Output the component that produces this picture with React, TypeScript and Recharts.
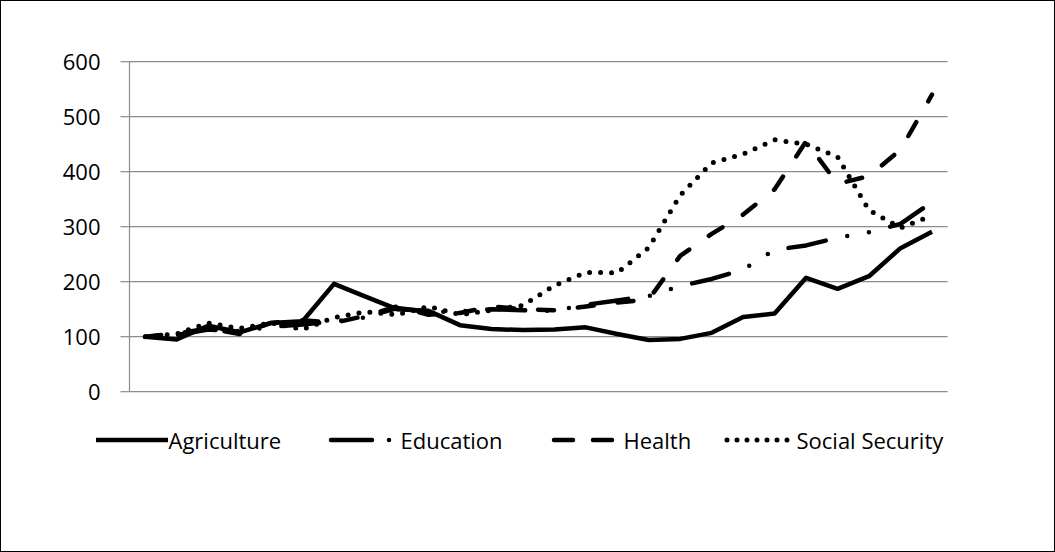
import React from 'react';
import { LineChart, Line, XAxis, YAxis, CartesianGrid, Legend } from 'recharts';

const categories = ['1', '2', '3', '4', '5', '6', '7', '8', '9', '10', '11', '12', '13', '14', '15', '16', '17', '18', '19', '20', '21', '22', '23', '24', '25', '26'];
const agriculture = [100, 95, 120, 108, 125, 128, 196, 173, 150, 147, 121, 114, 112, 113, 117, 105, 94, 96, 107, 136, 142, 207, 187, 210, 261, 291];
const education = [100, 103, 113, 110, 118, 122, 128, 135, 152, 145, 146, 150, 148, 147, 158, 166, 174, 192, 205, 222, 258, 266, 280, 290, 305, 345];
const health = [100, 106, 115, 105, 125, 130, 125, 138, 155, 140, 143, 155, 150, 148, 155, 162, 168, 247, 287, 322, 368, 455, 378, 392, 440, 540];
const socialSecurity = [100, 105, 125, 115, 125, 113, 135, 145, 140, 155, 140, 148, 157, 193, 217, 216, 262, 357, 416, 432, 458, 450, 427, 330, 298, 320];
const yTicks = [0, 100, 200, 300, 400, 500, 600];
const seriesNames = ['Agriculture', 'Education', 'Health', 'Social Security'];

const data = categories.map((c, i) => ({
  cat: c,
  Agriculture: agriculture[i],
  Education: education[i],
  Health: health[i],
  'Social Security': socialSecurity[i],
}));

const FONT = '"Open Sans", "Liberation Sans", sans-serif';
const FONT_SIZE = 22;

const lineStyles: Record<string, { dash?: string; offset?: number; width: number; cap: 'round' | 'butt'; legendDash?: string }> = {
  Agriculture: { width: 4.5, cap: 'butt' },
  Education: { dash: '38 22 0 22 0 22', offset: -33, width: 4.5, cap: 'round', legendDash: '41 17 0 40' },
  Health: { dash: '16 24', width: 4.5, cap: 'round', legendDash: '19 20' },
  'Social Security': { dash: '0 11', width: 5, cap: 'round', legendDash: '0 10' },
};

const legendX: Record<string, number> = {
  Agriculture: 96,
  Education: 328,
  Health: 551,
  'Social Security': 724,
};

function LegendContent(props: any) {
  const payload = props.payload || [];
  return (
    <div style={{ position: 'relative', width: 1055, height: 30 }}>
      {payload.map((entry: any) => {
        const name = entry.value as string;
        const st = lineStyles[name];
        return (
          <div
            key={name}
            style={{ position: 'absolute', left: legendX[name], top: 0, display: 'flex', alignItems: 'center', height: 30 }}
          >
            <svg width={72} height={12} style={{ display: 'block' }}>
              <line
                x1={st.cap === 'round' ? 3 : 0}
                y1={6}
                x2={st.cap === 'round' ? 69 : 72}
                y2={6}
                stroke="#000"
                strokeWidth={st.width}
                strokeLinecap={st.cap}
                strokeDasharray={st.legendDash}
              />
            </svg>
            <span style={{ fontFamily: FONT, fontSize: FONT_SIZE, color: '#000', marginLeft: 1, whiteSpace: 'nowrap' }}>{name}</span>
          </div>
        );
      })}
    </div>
  );
}

export default function App() {
  return (
    <div
      style={{
        position: 'fixed',
        left: 0,
        top: 0,
        width: 1055,
        height: 552,
        boxSizing: 'border-box',
        border: '1.5px solid #000',
        background: '#fff',
      }}
    >
      <div style={{ position: 'absolute', left: -1.5, top: -1.5 }}>
        <LineChart
          width={1055}
          height={552}
          data={data}
          margin={{ top: 61.7, right: 107.3, bottom: 160.3, left: 0 }}
        >
          <CartesianGrid vertical={false} stroke="#8c8c8c" strokeWidth={1.2} />
          <XAxis
            dataKey="cat"
            tick={false}
            tickLine={false}
            axisLine={{ stroke: '#8c8c8c', strokeWidth: 1.2 }}
            height={0}
            padding={{ left: 15.73, right: 15.73 }}
          />
          <YAxis
            width={129.5}
            domain={[0, 600]}
            ticks={yTicks}
            interval={0}
            tickSize={9}
            tickMargin={20}
            tickLine={{ stroke: '#8c8c8c', strokeWidth: 1.2 }}
            axisLine={{ stroke: '#8c8c8c', strokeWidth: 1.2 }}
            tick={{ fill: '#000', fontSize: FONT_SIZE, fontFamily: FONT }}
          />
          <Legend
            verticalAlign="middle"
            align="center"
            content={<LegendContent />}
            wrapperStyle={{ position: 'absolute', left: 0, top: 425, width: 1055, height: 30 }}
          />
          {seriesNames.map((name) => {
            const st = lineStyles[name];
            return (
              <Line
                key={name}
                type="linear"
                dataKey={name}
                name={name}
                stroke="#000"
                strokeWidth={st.width}
                strokeDasharray={st.dash}
                strokeDashoffset={st.offset}
                strokeLinecap={st.cap}
                strokeLinejoin="round"
                dot={false}
                activeDot={false}
                isAnimationActive={false}
              />
            );
          })}
        </LineChart>
      </div>
    </div>
  );
}
